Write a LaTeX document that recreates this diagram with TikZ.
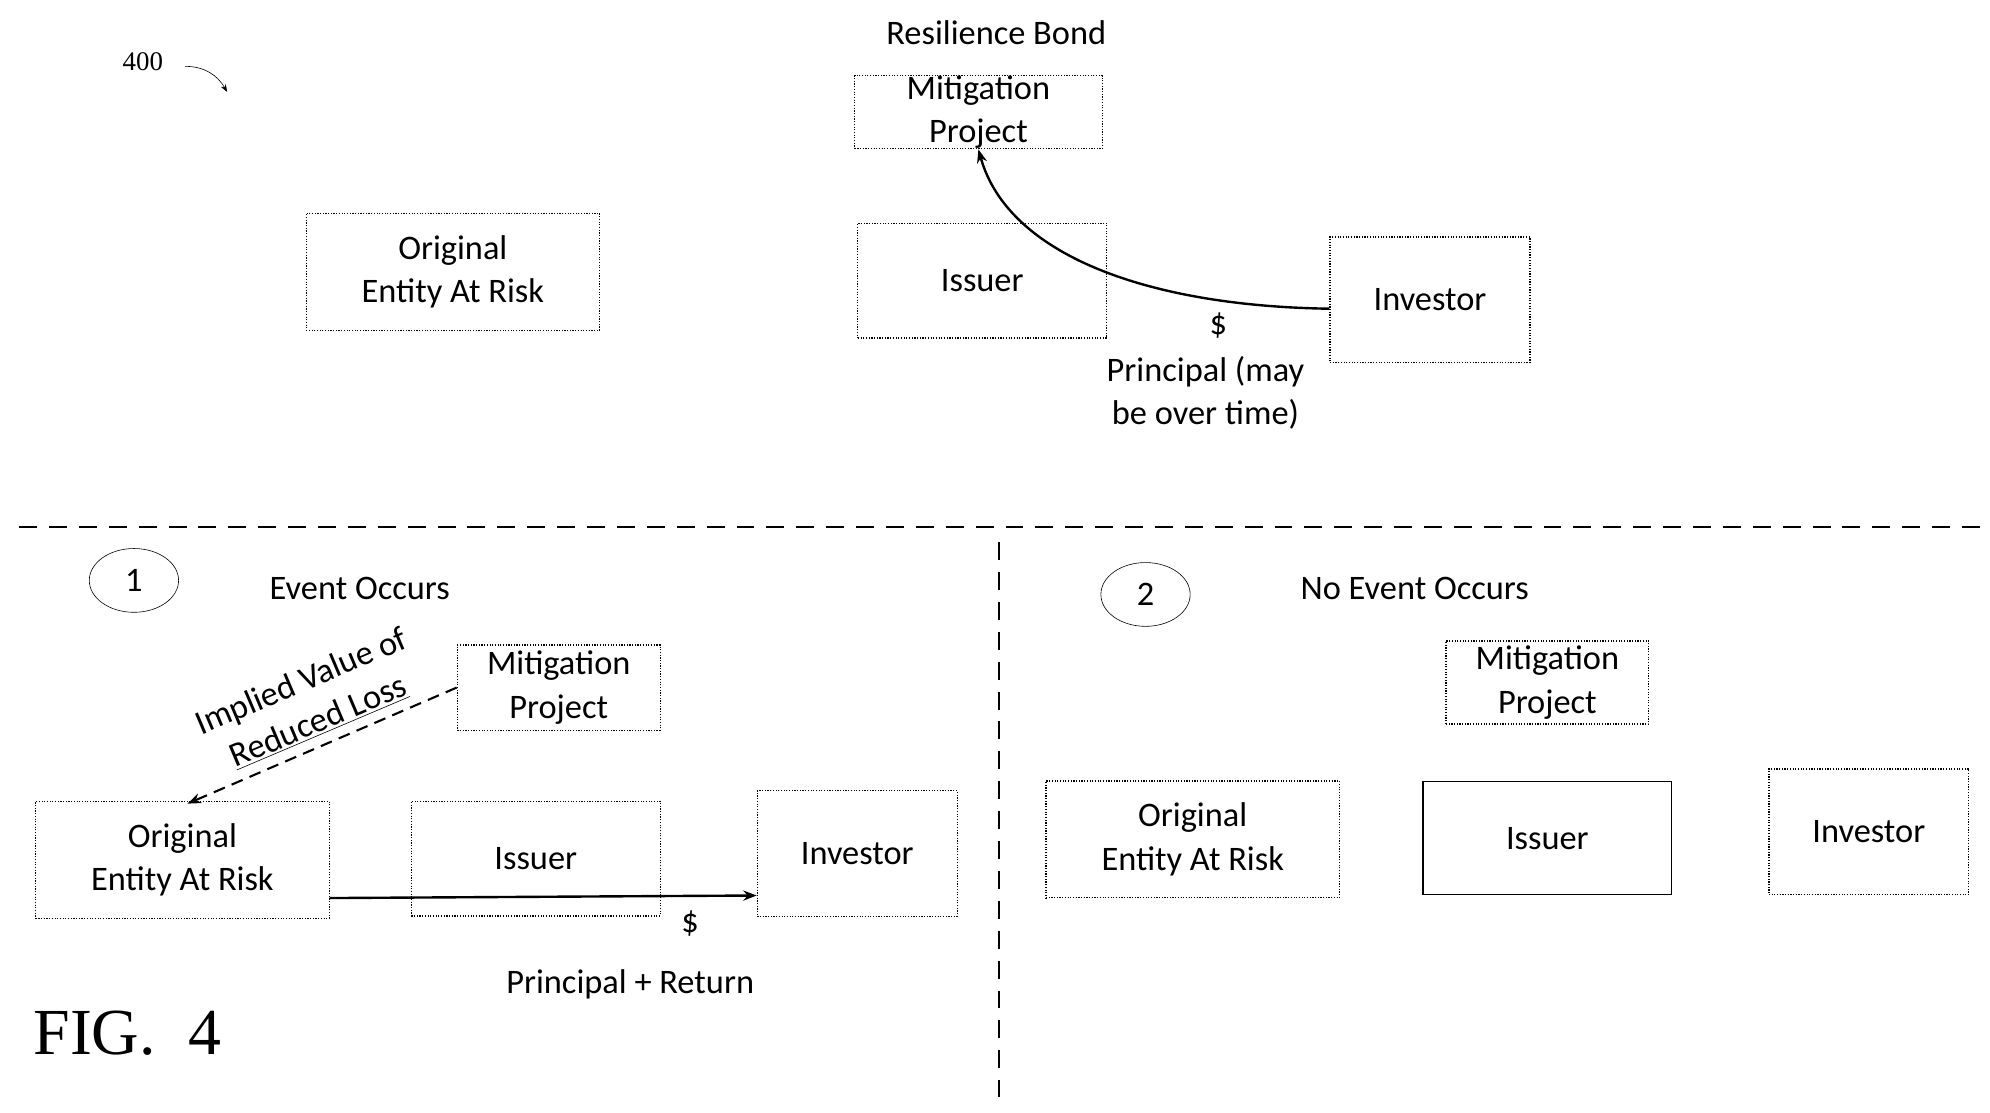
\documentclass[tikz,border=0pt]{standalone}
\usepackage{fontspec}
\setmainfont{Carlito}
\newfontfamily\figfont{Liberation Serif}
\usetikzlibrary{positioning,arrows.meta,shapes.geometric}

\begin{document}
\begin{tikzpicture}[x=0.03cm,y=-0.03cm,
  every node/.style={font=\fontsize{23}{29}\selectfont},
  box/.style={draw,densely dotted,thick,align=center,inner sep=0pt},
  flow/.style={-{Stealth[length=9pt]},thick},
  txt/.style={align=center,inner sep=0pt}]
\useasboundingbox (0,0) rectangle (1560,872);
% top: resilience bond
\node[font=\fontsize{18}{20}\selectfont\figfont] (num) at (112,48) {400};
\coordinate (numtip) at (178,72);
\draw[-{Stealth[length=5pt]}] (145,52) to[out=0,in=120] (numtip);
\node (title) at (781,26) {Resilience Bond};
\node[box,minimum width=5.82cm,minimum height=1.62cm] (mitA) at (767,88) {Mitigation\\Project};
\node[box,minimum width=6.9cm,minimum height=2.75cm] (orgA) at (355,213) {Original\\Entity At Risk};
\node[box,minimum width=5.85cm,minimum height=2.7cm] (issA) at (770,220) {Issuer};
\node[box,minimum width=4.7cm,minimum height=2.95cm] (invA) at (1121,235) {Investor};
\draw[flow,line width=1.6pt] (invA.west |- 0,242) .. controls (900,240) and (790,200) .. (mitA.south);
\node[txt] (dolA) at (955,255) {\$};
\node[txt] (prinA) at (945,308) {Principal (may\\be over time)};
% separators
\draw[very thick,dash pattern=on 12pt off 8pt] (15,413) -- (1555,413);
\draw[very thick,dash pattern=on 12pt off 8pt] (783,425) -- (783,860);
% case 1: event occurs
\node[draw,ellipse,minimum width=2.1cm,minimum height=1.5cm,inner sep=0pt] (one) at (105,455) {1};
\node[txt] (evt) at (282,461) {Event Occurs};
\node[box,minimum width=4.77cm,minimum height=2cm] (mitB) at (438,539) {Mitigation\\Project};
\node[box,minimum width=6.9cm,minimum height=2.75cm] (orgB) at (143,674) {Original\\Entity At Risk};
\node[box,minimum width=5.85cm,minimum height=2.7cm] (issB) at (420,673) {Issuer};
\node[box,minimum width=4.7cm,minimum height=2.95cm] (invB) at (672,669) {Investor};
\draw[flow,line width=1.4pt,dash pattern=on 8pt off 5pt] (mitB.west) -- (147,630);
\node[txt,rotate=23] (implied) at (243,550) {Implied Value of\\\underline{Reduced Loss}};
\draw[flow,line width=1.6pt] (orgB.east |- 0,704) -- (invB.west |- 0,702);
\node[txt] (dolB) at (541,724) {\$};
\node[txt] (prinB) at (494,772) {Principal + Return};
\node[txt,font=\fontsize{44}{48}\selectfont\figfont] (fig) at (100,810) {FIG.\ \ 4};
% case 2: no event
\node[draw,ellipse,minimum width=2.1cm,minimum height=1.5cm,inner sep=0pt] (two) at (898,466) {2};
\node[txt] (noevt) at (1109,461) {No Event Occurs};
\node[box,minimum width=4.77cm,minimum height=1.95cm] (mitC) at (1213,535) {Mitigation\\Project};
\node[box,minimum width=6.9cm,minimum height=2.75cm] (orgC) at (935,658) {Original\\Entity At Risk};
\node[box,solid,minimum width=5.85cm,minimum height=2.67cm] (issC) at (1213,657) {Issuer};
\node[box,minimum width=4.7cm,minimum height=2.95cm] (invC) at (1465,652) {Investor};
\end{tikzpicture}
\end{document}
